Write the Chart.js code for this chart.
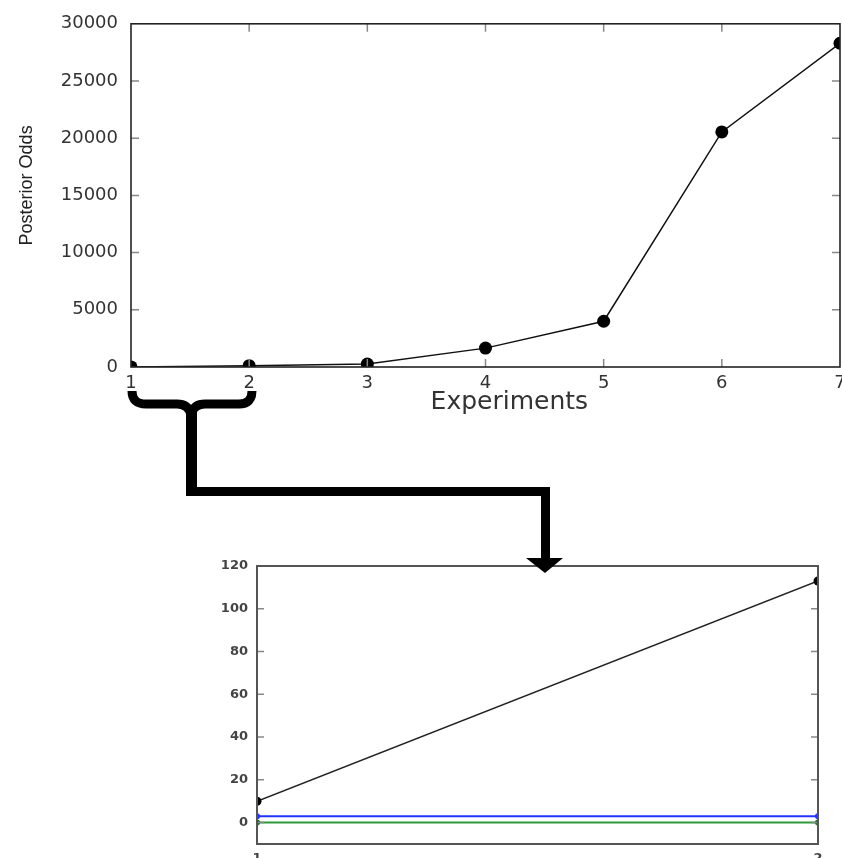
<!DOCTYPE html>
<html>
<head>
<meta charset="utf-8">
<script src="https://cdn.jsdelivr.net/npm/chart.js@4"></script>
<style>
  html, body { margin: 0; padding: 0; background: #fff; width: 842px; height: 858px; overflow: hidden; }
  #main { position: absolute; left: 0; top: 0; }
  #zoom { position: absolute; left: 0; top: 540px; }
  #connector { position: absolute; left: 0; top: 0; }
</style>
</head>
<body>
<canvas id="main" width="860" height="420"></canvas>
<canvas id="zoom" width="842" height="330"></canvas>
<svg id="connector" width="842" height="858">
  <path d="M132 391 Q132 404 146 404 L177 404 Q188 404 191 414 Q194 404 205 404 L239 404 Q252 404 252 391"
        fill="none" stroke="#000" stroke-width="9"/>
  <rect x="186" y="408" width="11" height="88" fill="#000"/>
  <rect x="186" y="487" width="364" height="9" fill="#000"/>
  <rect x="541" y="487" width="9" height="73" fill="#000"/>
  <polygon points="526,558 563,558 545,573" fill="#000"/>
</svg>
<script>
const experiments = [1, 2, 3, 4, 5, 6, 7];
const posteriorOdds = [10, 113, 260, 1650, 4000, 20550, 28300];
const oddsTicks = [0, 5000, 10000, 15000, 20000, 25000, 30000];

const zoomExperiments = [1, 2];
const zoomOdds = [10, 113];
const blueLevel = [3, 3];
const greenLevel = [0, 0];
const zoomTicks = [0, 20, 40, 60, 80, 100, 120];

// matplotlib-like frame with ticks pointing inwards on all four sides
const innerTicks = {
  id: "innerTicks",
  afterDraw(chart, args, opts) {
    const { ctx, chartArea: a, scales } = chart;
    const len = opts.length;
    ctx.save();
    ctx.strokeStyle = opts.tickColor;
    ctx.lineWidth = 1.5;
    ctx.beginPath();
    scales.x.ticks.forEach((t) => {
      const px = scales.x.getPixelForValue(t.value);
      if (px <= a.left + 1 || px >= a.right - 1) return;
      ctx.moveTo(px, a.bottom); ctx.lineTo(px, a.bottom - len);
      ctx.moveTo(px, a.top); ctx.lineTo(px, a.top + len);
    });
    scales.y.ticks.forEach((t) => {
      const py = scales.y.getPixelForValue(t.value);
      if (py <= a.top + 1 || py >= a.bottom - 1) return;
      ctx.moveTo(a.left, py); ctx.lineTo(a.left + len, py);
      ctx.moveTo(a.right, py); ctx.lineTo(a.right - len, py);
    });
    ctx.stroke();
    ctx.strokeStyle = opts.frameColor;
    ctx.lineWidth = opts.frameWidth;
    ctx.strokeRect(a.left, a.top, a.right - a.left, a.bottom - a.top);
    ctx.restore();
  },
};

function toPoints(xs, ys) {
  return xs.map((x, i) => ({ x: x, y: ys[i] }));
}

const plain = (v) => String(v);

new Chart(document.getElementById("main"), {
  type: "line",
  data: {
    datasets: [
      {
        data: toPoints(experiments, posteriorOdds),
        borderColor: "#111",
        borderWidth: 1.5,
        backgroundColor: "#000",
        pointRadius: 6.5,
        pointBorderWidth: 0,
        tension: 0,
      },
    ],
  },
  options: {
    responsive: false,
    animation: false,
    layout: { padding: { top: 21, right: 20, bottom: 0, left: 0 } },
    plugins: {
      legend: { display: false },
      tooltip: { enabled: false },
      innerTicks: { length: 8, tickColor: "#888", frameColor: "#222", frameWidth: 1.6 },
    },
    scales: {
      x: {
        type: "linear",
        min: 1,
        max: 7,
        afterBuildTicks: (s) => { s.ticks = experiments.map((v) => ({ value: v })); },
        afterFit: (s) => { s.height = 53; },
        grid: { display: false, drawTicks: false },
        border: { display: false },
        ticks: { padding: 6, color: "#333", callback: plain, font: { family: "DejaVu Sans", size: 18 } },
        title: {
          display: true,
          text: "      Experiments",
          color: "#333",
          padding: { top: 0, bottom: 3 },
          font: { family: "DejaVu Sans", size: 25 },
        },
      },
      y: {
        min: 0,
        max: 30000,
        afterBuildTicks: (s) => { s.ticks = oddsTicks.map((v) => ({ value: v })); },
        afterFit: (s) => { s.width = 131; },
        grid: { display: false, drawTicks: false },
        border: { display: false },
        ticks: { padding: 13, color: "#333", callback: plain, font: { family: "DejaVu Sans", size: 18 } },
        title: {
          display: true,
          text: "    Posterior Odds",
          color: "#222",
          padding: { top: 16, bottom: 0 },
          font: { family: "'Liberation Sans', sans-serif", size: 18 },
        },
      },
    },
  },
  plugins: [innerTicks],
});

new Chart(document.getElementById("zoom"), {
  type: "line",
  data: {
    datasets: [
      {
        data: toPoints(zoomExperiments, zoomOdds),
        borderColor: "#222",
        borderWidth: 1.5,
        backgroundColor: "#000",
        pointRadius: 4.5,
        pointBorderWidth: 0,
      },
      {
        data: toPoints(zoomExperiments, blueLevel),
        borderColor: "#2233ff",
        borderWidth: 2,
        backgroundColor: "#2233ff",
        pointRadius: 3,
        pointBorderWidth: 0,
      },
      {
        data: toPoints(zoomExperiments, greenLevel),
        borderColor: "#2e9a3a",
        borderWidth: 2,
        backgroundColor: "#1f6e28",
        pointRadius: 3,
        pointBorderWidth: 0,
      },
    ],
  },
  options: {
    responsive: false,
    animation: false,
    layout: { padding: { top: 26, right: 24, bottom: 0, left: 0 } },
    plugins: {
      legend: { display: false },
      tooltip: { enabled: false },
      innerTicks: { length: 7, tickColor: "#888", frameColor: "#555", frameWidth: 2 },
    },
    scales: {
      x: {
        type: "linear",
        min: 1,
        max: 2,
        afterBuildTicks: (s) => { s.ticks = zoomExperiments.map((v) => ({ value: v })); },
        afterFit: (s) => { s.height = 26; },
        grid: { display: false, drawTicks: false },
        border: { display: false },
        ticks: { padding: 7, color: "#444", callback: plain, font: { family: "DejaVu Sans", size: 13, weight: "bold" } },
      },
      y: {
        min: -10,
        max: 120,
        afterBuildTicks: (s) => { s.ticks = zoomTicks.map((v) => ({ value: v })); },
        afterFit: (s) => { s.width = 257; },
        grid: { display: false, drawTicks: false },
        border: { display: false },
        ticks: { padding: 9, color: "#444", callback: plain, font: { family: "DejaVu Sans", size: 13, weight: "bold" } },
      },
    },
  },
  plugins: [innerTicks],
});
</script>
</body>
</html>
